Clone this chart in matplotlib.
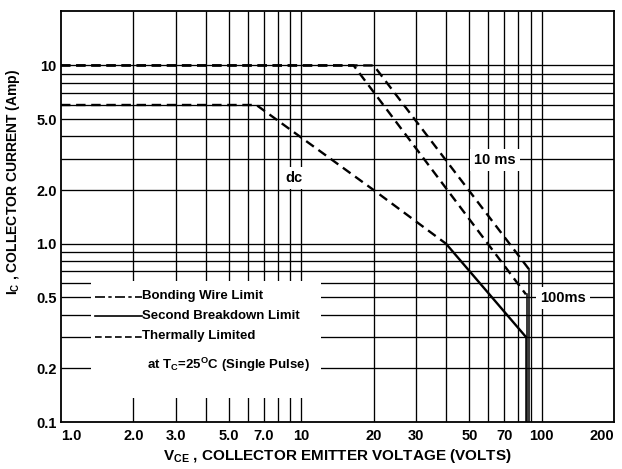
import matplotlib
matplotlib.use("Agg")
import matplotlib.pyplot as plt
from matplotlib.patches import Rectangle
from matplotlib.lines import Line2D

plt.rcParams['font.family'] = ['Liberation Sans', 'DejaVu Sans']
plt.rcParams['mathtext.fontset'] = 'custom'
plt.rcParams['mathtext.rm'] = 'Liberation Sans:bold'
plt.rcParams['mathtext.bf'] = 'Liberation Sans:bold'
plt.rcParams['mathtext.it'] = 'Liberation Sans:bold'

# ---- data ----
x_ticks = [1, 2, 3, 5, 7, 10, 20, 30, 50, 70, 100, 200]
x_tick_labels = ["1.0", "2.0", "3.0", "5.0", "7.0", "10", "20", "30", "50", "70", "100", "200"]
y_ticks = [0.1, 0.2, 0.5, 1.0, 2.0, 5.0, 10]
y_tick_labels = ["0.1", "0.2", "0.5", "1.0", "2.0", "5.0", "10"]
v_grid = [2, 3, 4, 5, 6, 7, 8, 9, 10, 20, 30, 40, 50, 60, 70, 80, 90, 100]
h_grid = [0.2, 0.3, 0.4, 0.5, 0.6, 0.7, 0.8, 0.9, 1.0, 2, 3, 4, 5, 6, 7, 8, 9, 10]

# dc: thermally limited (dashed) then second breakdown (solid)
dc_thermal_v = [1, 6.5, 20, 40]
dc_thermal_i = [6.0, 6.0, 2.0, 1.0]
dc_sb_v = [40, 86, 86]
dc_sb_i = [1.0, 0.30, 0.1]
# 100 ms pulse
p100_v = [1, 16.5, 86]
p100_i = [10, 10, 0.52]
p100_end_v = [86.5, 86.5]
p100_end_i = [0.52, 0.1]
# 10 ms pulse
p10_v = [1, 20, 88.5]
p10_i = [10, 10, 0.72]
p10_end_v = [88.5, 88.5]
p10_end_i = [0.72, 0.1]

fig = plt.figure(figsize=(6.22, 4.69), dpi=100)
ax = fig.add_axes([61/622, 47/469, 553/622, 411/469])
ax.set_xscale('log')
ax.set_yscale('log')
ax.set_xlim(1, 200)
ax.set_ylim(0.1, 20.2)

gkw = dict(color='black', lw=0.95, zorder=1)
ax.vlines(v_grid, 0.1, 20.2, **gkw)
ax.hlines(h_grid, 1, 200, **gkw)

# blank legend area
ax.add_patch(Rectangle((1.33, 0.137), 12.1 - 1.33, 0.615 - 0.137,
                       facecolor='white', edgecolor='none', zorder=2))

dash = (0, (4, 2.4))
ckw = dict(color='black', lw=1.7, zorder=3)
ax.plot(dc_thermal_v, dc_thermal_i, linestyle=dash, **ckw)
ax.plot(dc_sb_v[:2], dc_sb_i[:2], linestyle='-', **ckw)
ax.plot(dc_sb_v[1:], dc_sb_i[1:], linestyle='-', color='black', lw=1.1, zorder=3)
ax.plot(p100_v, p100_i, linestyle=dash, **ckw)
ax.plot(p100_end_v, p100_end_i, linestyle='-', color='black', lw=1.1, zorder=3)
ax.plot(p10_v, p10_i, linestyle=dash, **ckw)
ax.plot(p10_end_v, p10_end_i, linestyle='-', color='black', lw=1.1, zorder=3)

tkw = dict(fontsize=10.5, fontweight='bold', ha='center', va='center', zorder=5,
           bbox=dict(facecolor='white', edgecolor='none', pad=3))
ax.text(64, 2.95, "10 ms", **tkw)
ax.text(123, 0.495, "100ms", **tkw)
ax.text(9.3, 2.33, "dc", **tkw)

# legend
lx0, lx1 = (95 - 61) / 553, (142 - 61) / 553
leg = [("Bonding Wire Limit", (0, (6, 2, 2, 2)), 296.5),
       ("Second Breakdown Limit", '-', 316.0),
       ("Thermally Limited", (0, (4, 2)), 336.5)]
for label, ls, ypix in leg:
    yf = (422 - ypix) / 411
    ax.add_line(Line2D([lx0, lx1], [yf, yf], transform=ax.transAxes,
                       color='black', lw=1.2, linestyle=ls, zorder=4))
    ax.text(lx1, yf, label, transform=ax.transAxes, fontsize=9.5, fontweight='bold',
            ha='left', va='center', zorder=5)
ax.text((147 - 61) / 553, (422 - 365) / 411, r"at T$_{\mathrm{C}}$=25$^{\mathrm{O}}$C (Single Pulse)",
        transform=ax.transAxes, fontsize=9.5, fontweight='bold', ha='left', va='center', zorder=5)

ax.set_xticks(x_ticks)
ax.set_xticklabels(x_tick_labels, fontsize=10.5, fontweight='bold')
ax.set_yticks(y_ticks)
ax.set_yticklabels(y_tick_labels, fontsize=10.5, fontweight='bold')
ax.xaxis.set_minor_locator(matplotlib.ticker.NullLocator())
ax.yaxis.set_minor_locator(matplotlib.ticker.NullLocator())
ax.tick_params(axis='x', length=0, pad=5)
ax.tick_params(axis='y', length=0, pad=3)
xl = ax.get_xticklabels()
xl[0].set_ha('left')
xl[-1].set_ha('right')
for s in ax.spines.values():
    s.set_linewidth(1.3)
    s.set_zorder(6)

ax.set_xlabel(r"V$_{\mathrm{CE}}$ , COLLECTOR EMITTER VOLTAGE (VOLTS)", fontsize=11,
              fontweight='bold')
ax.xaxis.set_label_coords(0.5, -(447 - 422) / 411)
ax.set_ylabel(r"I$_{\mathrm{C}}$ , COLLECTOR CURRENT (Amp)", fontsize=10, fontweight='bold')
ax.yaxis.set_label_coords((22 - 61) / 553, 0.584)

fig.savefig("out.png", dpi=100)
